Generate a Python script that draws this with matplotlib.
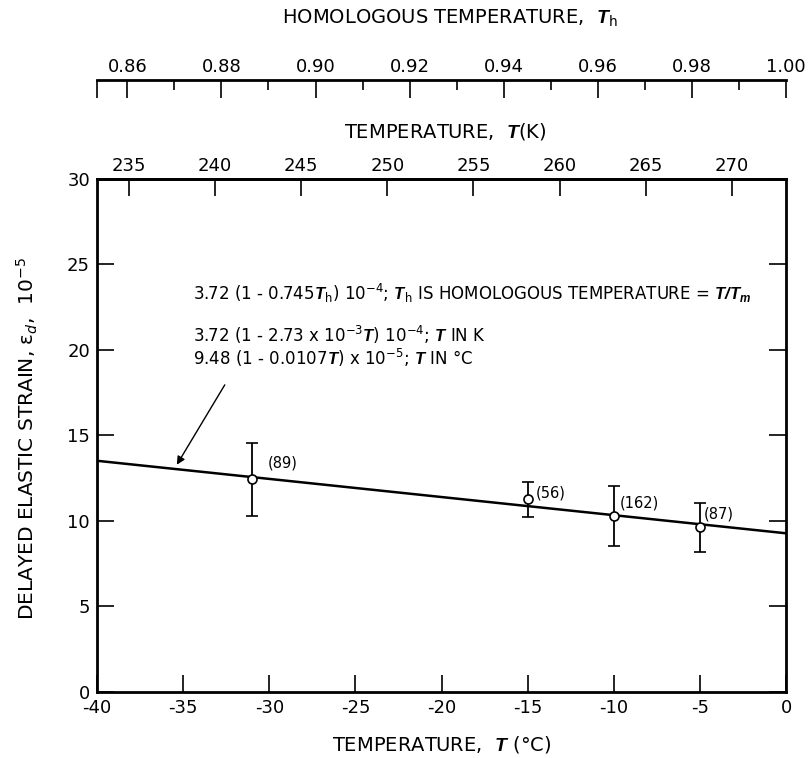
import matplotlib
matplotlib.use('Agg')
import matplotlib.pyplot as plt
import numpy as np

### Fonts
plt.rcParams['font.family'] = ['DejaVu Sans']
plt.rcParams['axes.unicode_minus'] = False
plt.rcParams['mathtext.fontset'] = 'custom'
plt.rcParams['mathtext.rm'] = 'DejaVu Sans'
plt.rcParams['mathtext.it'] = 'DejaVu Sans:italic'
plt.rcParams['mathtext.bf'] = 'Liberation Sans:bold:italic'

### Data
# Measured points, temperature in deg C and strain in 1e-5
temp_c = [-31, -15, -10, -5]
strain = [12.45, 11.27, 10.29, 9.67]
strain_low = [10.3, 10.25, 8.54, 8.2]
strain_high = [14.55, 12.3, 12.05, 11.03]
counts = ['(89)', '(56)', '(162)', '(87)']

# Fitted line end points
fit_temp = [-40, 0]
fit_strain = [13.52, 9.28]

# Axis ticks
x_ticks = [-40, -35, -30, -25, -20, -15, -10, -5, 0]
y_ticks = [0, 5, 10, 15, 20, 25, 30]
kelvin_ticks = [235, 240, 245, 250, 255, 260, 265, 270]
homol_major = [0.86, 0.88, 0.90, 0.92, 0.94, 0.96, 0.98, 1.00]
homol_minor = [0.87, 0.89, 0.91, 0.93, 0.95, 0.97, 0.99]

# Equation lines
eq_lines = [
    r'3.72 (1 - 0.745$\mathbf{T}_{\mathrm{h}}$) 10$^{-4}$; '
    r'$\mathbf{T}_{\mathrm{h}}$ IS HOMOLOGOUS TEMPERATURE = '
    r'$\mathbf{T/T}_{\mathbf{m}}$',
    r'3.72 (1 - 2.73 x 10$^{-3}\mathbf{T}$) 10$^{-4}$; $\mathbf{T}$ IN K',
    r'9.48 (1 - 0.0107$\mathbf{T}$) x 10$^{-5}$; $\mathbf{T}$ IN °C',
]

T_melt = 273.15

### Figure
fig = plt.figure(figsize=(8.12, 7.58), dpi=100)
ax = fig.add_axes([0.1195, 0.0871, 0.8485, 0.6768])

ax.plot(fit_temp, fit_strain, 'k-', lw=1.8, zorder=2)
yerr = [np.array(strain) - np.array(strain_low),
        np.array(strain_high) - np.array(strain)]
ax.errorbar(temp_c, strain, yerr=yerr, fmt='o', ms=6.5, mfc='white', mec='k',
            mew=1.2, ecolor='k', elinewidth=1.3, capsize=4, capthick=1.5,
            zorder=3)

# count labels, offsets from each point (deg C, strain)
label_offsets = [(0.93, 0.94), (0.48, 0.35), (0.37, 0.76), (0.25, 0.73)]
for t, s, c, (dx, dy) in zip(temp_c, strain, counts, label_offsets):
    ax.text(t + dx, s + dy, c, fontsize=10.5, ha='left', va='center')

ax.set_xlim(-40, 0)
ax.set_ylim(0, 30)
ax.set_xticks(x_ticks)
ax.set_yticks(y_ticks)
ax.set_xticklabels([str(v) for v in x_ticks])
ax.tick_params(direction='in', length=12.5, width=1.2, labelsize=13, pad=5,
               right=True)
for sp in ax.spines.values():
    sp.set_linewidth(2)

ax.set_xlabel(r'TEMPERATURE,  $\mathbf{T}$ (°C)', fontsize=14, labelpad=12)
ax.set_ylabel('DELAYED ELASTIC STRAIN, ε$_{d}$,  10$^{-5}$', fontsize=14.5)
ax.yaxis.set_label_coords(-0.083, 0.494)

# Kelvin axis on top of the plot
kax = ax.secondary_xaxis('top', functions=(lambda c: c + T_melt,
                                           lambda k: k - T_melt))
kax.set_xticks(kelvin_ticks)
kax.tick_params(direction='in', length=12.5, width=1.2, labelsize=13, pad=3)
kax.spines['top'].set_linewidth(2)

# Homologous temperature axis above
hax = ax.secondary_xaxis(1.193, functions=(lambda c: (c + T_melt) / T_melt,
                                           lambda h: h * T_melt - T_melt))
left_end = (fit_temp[0] + T_melt) / T_melt
hax.set_xticks([left_end] + homol_major)
hax.set_xticklabels([''] + ['%.2f' % v for v in homol_major])
hax.set_xticks(homol_minor, minor=True)
hax.tick_params(which='major', direction='in', length=13, width=1.2,
                labelsize=13, pad=3)
hax.tick_params(which='minor', direction='in', length=7, width=1.2)
hax.spines['top'].set_linewidth(2)

fig.text(0.554, 0.976, r'HOMOLOGOUS TEMPERATURE,  $\mathbf{T}_{\mathrm{h}}$',
         fontsize=14, ha='center', va='center')
fig.text(0.548, 0.826, r'TEMPERATURE,  $\mathbf{T}$(K)', fontsize=14,
         ha='center', va='center')

# Equation text and arrow
eq_y = [23.33, 20.88, 19.53]
for line, y in zip(eq_lines, eq_y):
    ax.text(-34.44, y, line, fontsize=12, ha='left', va='center')
ax.annotate('', xy=(-35.45, 13.15), xytext=(-32.5, 18.1),
            arrowprops=dict(arrowstyle='-|>', color='k', lw=1.0,
                            mutation_scale=12))

fig.savefig('out.png', dpi=100)
